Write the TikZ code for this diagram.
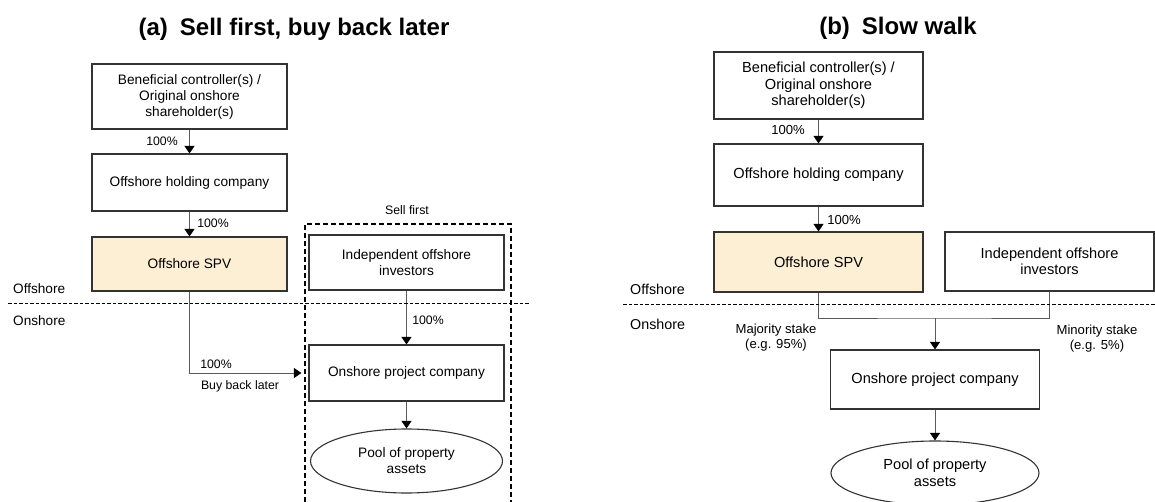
\documentclass[tikz,border=0pt]{standalone}
\usepackage{fontspec}
\setmainfont{Liberation Sans}
\usepackage{tikz}
\usetikzlibrary{arrows.meta,positioning,shapes.geometric}
\definecolor{spvfill}{HTML}{FDEFD3}
\definecolor{edgegray}{HTML}{333333}
\definecolor{linegray}{HTML}{5A5A5A}
\tikzset{
  heading/.style={font=\fontsize{24pt}{28pt}\selectfont\bfseries},
  cbox/.style={draw=edgegray,line width=1.1pt,fill=white,align=center,inner sep=2pt},
  abox/.style={cbox,minimum width=195pt,font=\fontsize{13.7pt}{16pt}\selectfont},
  bbox/.style={cbox,minimum width=209pt,font=\fontsize{14.6pt}{16.5pt}\selectfont},
  spv/.style={fill=spvfill},
  pool/.style={ellipse,draw=edgegray,line width=1.1pt,align=center,inner sep=0pt},
  pct/.style={inner sep=0pt,align=center},
  apct/.style={pct,font=\fontsize{12.3pt}{14pt}\selectfont},
  bpct/.style={pct,font=\fontsize{13.1pt}{15pt}\selectfont},
  side/.style={anchor=west,inner sep=0pt},
  wireline/.style={draw=linegray,line width=0.9pt},
  link/.style={wireline,-{Triangle[width=10pt,length=7.5pt,color=black]}},
  divider/.style={draw=black,line width=0.8pt,dash pattern=on 3.5pt off 2pt},
  sellframe/.style={draw=black,line width=1.2pt,dash pattern=on 5pt off 3pt}
}

\begin{document}
\begin{tikzpicture}[x=1pt,y=-1pt]
  \useasboundingbox (0,0) rectangle (1155,502);
  \clip (0,0) rectangle (1155,502);
  \fill[white] (0,0) rectangle (1155,502);

  % (a) sell first, buy back later
  \node[heading] (a-title) at (294,29) {(a)\hspace{12pt}Sell first, buy back later};
  \node[abox,minimum height=65pt] (a-ctrl) at (189.5,96.5) {Beneficial controller(s) /\\Original onshore\\shareholder(s)};
  \node[abox,minimum height=57pt] (a-hold) at (189.5,182.5) {Offshore holding company};
  \node[abox,spv,minimum height=54pt] (a-spv) at (189.5,264) {Offshore SPV};
  \node[abox,minimum height=55pt] (a-inv) at (406.5,262.5) {Independent offshore\\investors};
  \node[abox,minimum height=56pt] (a-proj) at (406.5,373) {Onshore project company};
  \node[pool,minimum width=192pt,minimum height=64pt,font=\fontsize{13.7pt}{16pt}\selectfont] (a-pool) at (406.5,461) {Pool of property\\assets};
  \node[apct] (a-p1) at (162,141) {100\%};
  \node[apct] (a-p2) at (213,223) {100\%};
  \node[apct] (a-p3) at (428,320) {100\%};
  \node[apct] (a-p4) at (216,364) {100\%};
  \node[apct] (a-buy) at (240,386) {Buy back later};
  \node[apct] (a-sell) at (407,210) {Sell first};
  \node[side,font=\fontsize{13.6pt}{16pt}\selectfont] (a-off) at (13,289) {Offshore};
  \node[side,font=\fontsize{13.6pt}{16pt}\selectfont] (a-on) at (13,321) {Onshore};
  \draw[link] (a-ctrl) -- (a-hold);
  \draw[link] (a-hold) -- (a-spv);
  \draw[link,shorten >=7pt] (a-spv) |- (a-proj);
  \draw[link] (a-inv) -- (a-proj);
  \draw[link] (a-proj) -- (a-pool);
  \draw[divider] (8,303) -- (530,303);
  \draw[sellframe] (305,502) -- (305,224) -- (511,224) -- (511,502);

  % (b) slow walk
  \node[heading] (b-title) at (898,28) {(b)\hspace{12pt}Slow walk};
  \node[bbox,minimum height=67pt] (b-ctrl) at (818.5,85.5) {Beneficial controller(s) /\\Original onshore\\shareholder(s)};
  \node[bbox,minimum height=62pt] (b-hold) at (818.5,175) {Offshore holding company};
  \node[bbox,spv,minimum height=60pt] (b-spv) at (818.5,262) {Offshore SPV};
  \node[bbox,minimum height=59pt] (b-inv) at (1049.5,261.5) {Independent offshore\\investors};
  \coordinate (b-join) at (935,318);
  \node[bbox,minimum height=59pt] (b-proj) at (935,379.5) {Onshore project company};
  \node[pool,minimum width=208pt,minimum height=64pt,font=\fontsize{14.6pt}{16.5pt}\selectfont] (b-pool) at (935,473) {Pool of property\\assets};
  \node[bpct] (b-p1) at (788,130) {100\%};
  \node[bpct] (b-p2) at (844,220) {100\%};
  \node[bpct] (b-maj) at (776,338) {Majority stake\\(e.g. 95\%)};
  \node[bpct] (b-min) at (1097,339) {Minority stake\\(e.g. 5\%)};
  \node[side,font=\fontsize{14.3pt}{16pt}\selectfont] (b-off) at (630,289) {Offshore};
  \node[side,font=\fontsize{14.3pt}{16pt}\selectfont] (b-on) at (630,324) {Onshore};
  \draw[link] (b-ctrl) -- (b-hold);
  \draw[link] (b-hold) -- (b-spv);
  \draw[wireline] (b-spv) |- (b-join) -| (b-inv);
  \draw[link] (b-join) -- (b-proj);
  \draw[link] (b-proj) -- (b-pool);
  \draw[divider] (623,304) -- (1155,304);
\end{tikzpicture}
\end{document}
